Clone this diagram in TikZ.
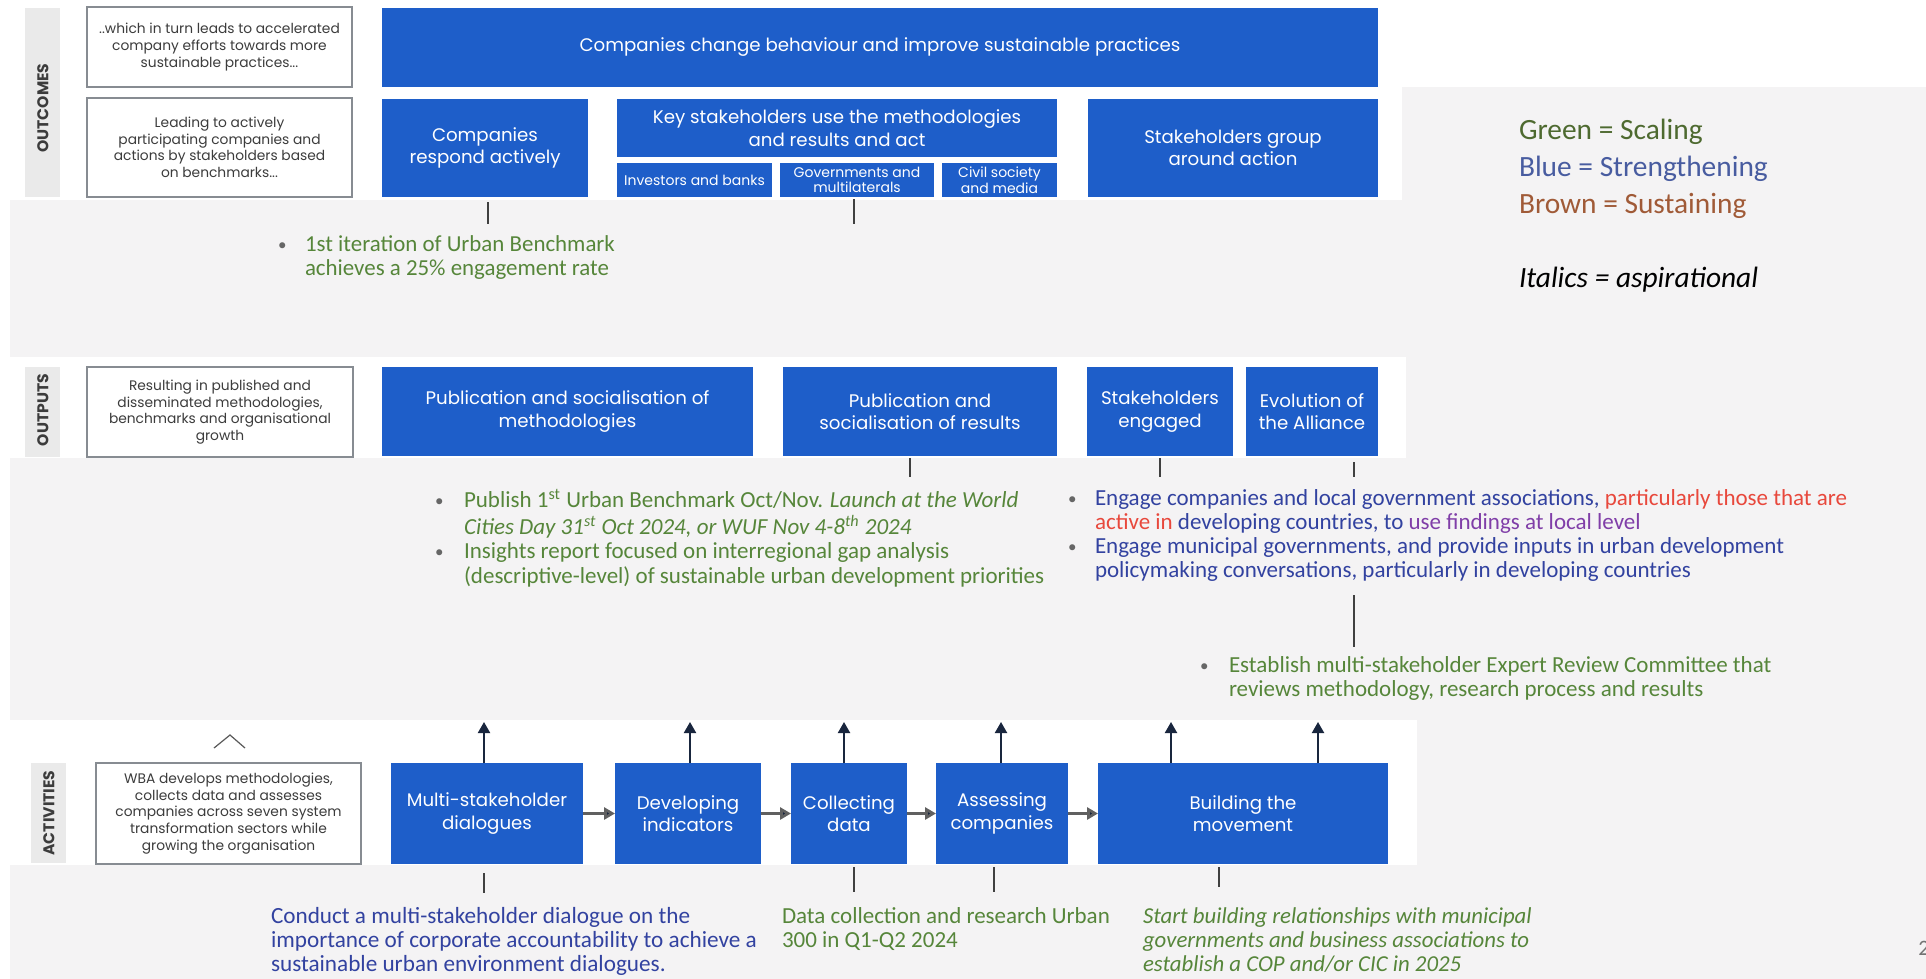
\documentclass[tikz,border=0pt]{standalone}
\usepackage{fontspec}
\setmainfont{Carlito}
\newfontfamily\boxfont{Poppins}
\usetikzlibrary{arrows.meta}
\definecolor{wbablue}{RGB}{30,94,201}
\definecolor{bggray}{RGB}{244,243,244}
\definecolor{stripgray}{RGB}{234,234,234}
\definecolor{txtgreen}{RGB}{86,134,58}
\definecolor{txtblue}{RGB}{50,66,160}
\definecolor{txtred}{RGB}{232,72,60}
\definecolor{txtpurple}{RGB}{128,62,168}
\definecolor{leggreen}{RGB}{78,106,48}
\definecolor{legblue}{RGB}{72,92,160}
\definecolor{legbrown}{RGB}{160,90,55}
\definecolor{navy}{RGB}{25,38,62}
\definecolor{boxtxt}{RGB}{60,60,60}
\definecolor{boxline}{RGB}{135,140,146}
\newcommand\bul[1]{\makebox[#1][l]{\hspace{1pt}\raisebox{0.6pt}{\fontsize{8.5}{8.5}\selectfont\textcolor{black!60}{\textbullet}}}}
% box from corner (x1,y1) to (x2,y2) in pixel units
\newcommand\mkbox[7]{%
  \pgfmathsetmacro\bcx{(#3+#5)/2}%
  \pgfmathsetmacro\bcy{(#4+#6)/2}%
  \pgfmathsetmacro\bw{(#5-#3)/2}%
  \pgfmathsetmacro\bh{(#6-#4)/2}%
  \node[#1, minimum width=\bw pt, minimum height=\bh pt] (#2) at (\bcx,\bcy) {#7};%
}
\tikzset{
  bluebox/.style={rectangle, fill=wbablue, draw=none, text=white, align=center, inner sep=0pt, outer sep=0pt,
    font=\boxfont\fontsize{9.1}{11.3}\selectfont},
  subbox/.style={bluebox, font=\boxfont\fontsize{7}{7.8}\selectfont},
  leftbox/.style={rectangle, fill=white, draw=boxline, line width=0.8pt, text=boxtxt, align=center, inner sep=0pt, outer sep=0pt,
    font=\boxfont\fontsize{6.9}{8.3}\selectfont},
  strip/.style={rectangle, fill=stripgray, draw=none, inner sep=0pt, outer sep=0pt},
  striplabel/.style={rotate=90, text=boxtxt, inner sep=0pt, font=\boxfont\bfseries\fontsize{7.8}{8}\selectfont},
  annot/.style={anchor=north west, inner sep=0pt, outer sep=0pt, align=left, font=\fontsize{11.5}{12}\selectfont},
  uparrow/.style={draw=navy, line width=1pt, -{Triangle[width=6pt,length=5.5pt]}},
  harrow/.style={draw=gray!75!black, line width=1.4pt, -{Triangle[width=6pt,length=5.5pt,fill=navy]}},
  tick/.style={draw=black!75, line width=0.6pt},
  chev/.style={draw=black!65, line width=0.6pt},
}
\begin{document}
\begin{tikzpicture}[x=0.5pt,y=-0.5pt]
\useasboundingbox (0,0) rectangle (1926,979);
% backgrounds
\fill[white] (0,0) rectangle (1926,979);
\fill[bggray] (10,200) rectangle (1926,979);
\fill[bggray] (1402,87) rectangle (1926,200);
\fill[white] (10,357) rectangle (1406,458);
\fill[white] (10,720) rectangle (1417,865);

% ---------- OUTCOMES ----------
\mkbox{strip}{soc}{25}{8}{60}{197}{}
\node[striplabel] (loc) at (43,108) {OUTCOMES};
\mkbox{leftbox}{lo1}{87}{7}{352}{87}{..which in turn leads to accelerated\\company efforts towards more\\sustainable practices...}
\mkbox{leftbox}{lo2}{87}{98}{352}{197}{Leading to actively\\participating companies and\\actions by stakeholders based\\on benchmarks...}
\mkbox{bluebox}{ctop}{382}{8}{1378}{87}{Companies change behaviour and improve sustainable practices}
\mkbox{bluebox}{cra}{382}{99}{588}{197}{Companies\\respond actively}
\mkbox{bluebox}{ks}{617}{99}{1057}{157}{Key stakeholders use the methodologies\\and results and act}
\mkbox{subbox}{inv}{617}{163}{772}{197}{Investors and banks}
\mkbox{subbox}{gov}{780}{163}{934}{197}{Governments and\\multilaterals}
\mkbox{subbox}{civ}{942}{163}{1057}{197}{Civil society\\and media}
\mkbox{bluebox}{sg}{1088}{99}{1378}{197}{Stakeholders group\\around action}

% ---------- OUTPUTS ----------
\mkbox{strip}{sop}{25}{367}{60}{457}{}
\node[striplabel] (lop) at (43,410) {OUTPUTS};
\mkbox{leftbox}{lo3}{87}{367}{353}{457}{Resulting in published and\\disseminated methodologies,\\benchmarks and organisational\\growth}
\mkbox{bluebox}{pm}{382}{367}{753}{456}{Publication and socialisation of\\methodologies}
\mkbox{bluebox}{pr}{783}{367}{1057}{456}{Publication and\\socialisation of results}
\mkbox{bluebox}{se}{1087}{367}{1233}{456}{Stakeholders\\engaged}
\mkbox{bluebox}{ev}{1246}{367}{1378}{456}{Evolution of\\the Alliance}

% ---------- ACTIVITIES ----------
\mkbox{strip}{sac}{31}{763}{66}{863}{}
\node[striplabel] (lac) at (49,813) {ACTIVITIES};
\mkbox{leftbox}{lo4}{96}{763}{361}{864}{WBA develops methodologies,\\collects data and assesses\\companies across seven system\\transformation sectors while\\growing the organisation}
\mkbox{bluebox}{ms}{391}{763}{583}{864}{Multi-stakeholder\\dialogues}
\mkbox{bluebox}{di}{615}{763}{761}{864}{Developing\\indicators}
\mkbox{bluebox}{cd}{791}{763}{907}{864}{Collecting\\data}
\mkbox{bluebox}{ac}{936}{763}{1068}{864}{Assessing\\companies}
\mkbox{bluebox}{bm}{1098}{763}{1388}{864}{Building the\\movement}

\draw[chev] (214,748) -- (230,735) -- (245,748);

% horizontal arrows
\draw[harrow] (ms) -- (di);
\draw[harrow] (di) -- (cd);
\draw[harrow] (cd) -- (ac);
\draw[harrow] (ac) -- (bm);

% up arrows
\coordinate (ua1) at (484,722);
\coordinate (ua2) at (690,722);
\coordinate (ua3) at (844,722);
\coordinate (ua4) at (1001,722);
\coordinate (ua5) at (1171,722);
\coordinate (ua6) at (1318,722);
\draw[uparrow] (ms.north -| ua1) -- (ua1);
\draw[uparrow] (di.north -| ua2) -- (ua2);
\draw[uparrow] (cd.north -| ua3) -- (ua3);
\draw[uparrow] (ac.north -| ua4) -- (ua4);
\draw[uparrow] (bm.north -| ua5) -- (ua5);
\draw[uparrow] (bm.north -| ua6) -- (ua6);

% ---------- annotation texts ----------
\node[annot, text=txtgreen, font=\fontsize{11.45}{12}\selectfont] (it1) at (276,235) {\begin{tabular}{@{}l@{}}\bul{14.5pt}1st iteration of Urban Benchmark\\\hspace{14.5pt}achieves a 25\% engagement rate\end{tabular}};

\node[annot, text=txtgreen] (pubtxt) at (433,489) {\begin{tabular}{@{}l@{}}\bul{15.5pt}Publish 1\textsuperscript{st} Urban Benchmark Oct/Nov. \textit{Launch at the World}\\\hspace{15.5pt}\textit{Cities Day 31\textsuperscript{st} Oct 2024, or WUF Nov 4-8\textsuperscript{th} 2024}\\\bul{15.5pt}Insights report focused on interregional gap analysis\\\hspace{15.5pt}(descriptive-level) of sustainable urban development priorities\end{tabular}};

\node[annot, text=txtblue] (engtxt) at (1066,489) {\begin{tabular}{@{}l@{}}\bul{14.5pt}Engage companies and local government associations, \textcolor{txtred}{particularly those that are}\\\hspace{14.5pt}\textcolor{txtred}{active in} developing countries, to \textcolor{txtpurple}{use findings at local level}\\\bul{14.5pt}Engage municipal governments, and provide inputs in urban development\\\hspace{14.5pt}policymaking conversations, particularly in developing countries\end{tabular}};

\node[annot, text=txtgreen] (esttxt) at (1198,656) {\begin{tabular}{@{}l@{}}\bul{15.5pt}Establish multi-stakeholder Expert Review Committee that\\\hspace{15.5pt}reviews methodology, research process and results\end{tabular}};

\node[annot, text=txtblue, font=\fontsize{11.6}{12}\selectfont] (contxt) at (271,907) {\begin{tabular}{@{}l@{}}Conduct a multi-stakeholder dialogue on the\\importance of corporate accountability to achieve a\\sustainable urban environment dialogues.\end{tabular}};

\node[annot, text=txtgreen, font=\fontsize{11.5}{12}\selectfont] (dattxt) at (782,907) {\begin{tabular}{@{}l@{}}Data collection and research Urban\\300 in Q1-Q2 2024\end{tabular}};

\node[annot, text=txtgreen, font=\fontsize{11.4}{12}\selectfont\itshape] (sbtxt) at (1143,907) {\begin{tabular}{@{}l@{}}Start building relationships with municipal\\governments and business associations to\\establish a COP and/or CIC in 2025\end{tabular}};

% legend
\node[annot, font=\fontsize{14.7}{18.5}\selectfont] (legend) at (1519,114) {\begin{tabular}{@{}l@{}}\textcolor{leggreen}{Green = Scaling}\\\textcolor{legblue}{Blue = Strengthening}\\\textcolor{legbrown}{Brown = Sustaining}\\[18.5pt]\textit{Italics = aspirational}\end{tabular}};

\node[anchor=west, inner sep=0pt, text=black!55, font=\fontsize{11}{12}\selectfont] (pg) at (1918,948) {2};

% ---------- connector ticks ----------
\coordinate (k1) at (488,224);
\coordinate (k2) at (854,224);
\coordinate (k3) at (910,477);
\coordinate (k4) at (1160,477);
\coordinate (k5) at (1354,477);
\coordinate (k6a) at (1354,595);
\coordinate (k6b) at (1354,647);
\coordinate (k7) at (484,893);
\coordinate (k8) at (854,892);
\coordinate (k9) at (994,892);
\coordinate (k10) at (1219,887);
\draw[tick, shorten <=2.5pt] (cra.south -| k1) -- (k1);
\draw[tick, shorten <=1pt] (gov.south -| k2) -- (k2);
\draw[tick, shorten <=1pt] (pr.south -| k3) -- (k3);
\draw[tick, shorten <=1pt] (se.south -| k4) -- (k4);
\draw[tick, shorten <=3pt] (ev.south -| k5) -- (k5);
\draw[tick] (k6a) -- (k6b);
\draw[tick, shorten <=4.5pt] (ms.south -| k7) -- (k7);
\draw[tick, shorten <=1.5pt] (cd.south -| k8) -- (k8);
\draw[tick, shorten <=1.5pt] (ac.south -| k9) -- (k9);
\draw[tick, shorten <=1.5pt] (bm.south -| k10) -- (k10);
\end{tikzpicture}
\end{document}
